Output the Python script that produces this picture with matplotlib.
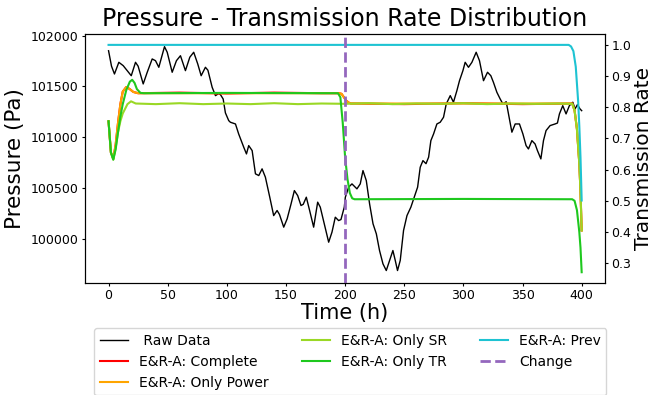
import numpy as np
import matplotlib
matplotlib.use("Agg")
from matplotlib import pyplot as plt

# raw pressure readings (h, Pa)
raw_t = [0, 2.5, 5, 8.7, 12.4, 15.8, 19.2, 22.8, 25, 29.3, 32.7, 36.9, 39.7, 42.5,
         47.3, 49.6, 53.8, 57.4, 60.8, 65, 68.7, 72, 75.4, 78.3, 81.9, 84, 87.6,
         90.4, 93, 94.6, 96.9, 98.8, 101.6, 103, 107.3, 110, 114.3, 116.6, 118.5,
         121.4, 124.2, 127, 129.8, 132.6, 136.3, 139.6, 142.5, 144.5, 148.1, 151,
         154.3, 157.1, 159.9, 162.7, 164.6, 167.2, 170, 173.4, 176.8, 179, 182.4,
         186.1, 188.9, 191.7, 194.5, 196.5, 199.3, 200.2, 203, 205.8, 210, 212.8,
         215.1, 217.9, 220.7, 223.6, 226.4, 229.1, 232, 234.8, 237.6, 240.4, 242.4,
         244.3, 246.6, 249.4, 252.3, 255.6, 258.4, 261.3, 263.5, 265.8, 268.4,
         270.6, 272.5, 274.8, 277.6, 280.4, 283.2, 285.5, 288.9, 291.6, 294.5,
         296.7, 299.6, 301.5, 304.3, 307.2, 310.8, 313.6, 317, 320.4, 323.2, 325.4,
         328.3, 331.1, 333.4, 336.2, 338.1, 341, 343.8, 347.4, 350.3, 353, 355,
         357.9, 360.6, 362.6, 365.5, 367.7, 369.9, 373.3, 377.5, 379.5, 381.2,
         384, 386.8, 389.6, 392.5, 394.4, 396.4, 398.6, 400]
raw_p = [101852, 101700, 101623, 101738, 101705, 101656, 101606, 101738, 101700,
         101525, 101640, 101771, 101754, 101689, 101892, 101837, 101640, 101754,
         101803, 101656, 101788, 101837, 101722, 101606, 101689, 101660, 101492,
         101410, 101430, 101420, 101377, 101240, 101164, 101148, 101131, 101033,
         100902, 100836, 100918, 100869, 100640, 100623, 100689, 100607, 100410,
         100229, 100279, 100240, 100115, 100197, 100344, 100475, 100426, 100328,
         100340, 100410, 100279, 100115, 100361, 100312, 100148, 99967, 100066,
         100213, 100180, 100190, 100312, 100410, 100509, 100541, 100492, 100541,
         100672, 100574, 100344, 100148, 100049, 99885, 99754, 99688, 99787, 99885,
         99787, 99688, 99787, 100082, 100229, 100312, 100410, 100509, 100705,
         100770, 100740, 100804, 100967, 101033, 101131, 101148, 101197, 101328,
         101410, 101345, 101459, 101557, 101656, 101738, 101689, 101738, 101837,
         101754, 101557, 101640, 101606, 101541, 101443, 101377, 101328, 101350,
         101230, 101050, 101131, 101131, 101033, 100918, 100885, 100967, 100934,
         100869, 100787, 100967, 101066, 101115, 101131, 101140, 101230, 101311,
         101230, 101311, 101345, 101279, 101321, 101279, 101262]

# transmission rate estimates
pw_t = [0, 2, 4, 6, 8, 10, 12, 15, 18, 21, 25, 60, 100, 140, 180, 195, 197, 199,
        201, 203, 205, 207, 250, 300, 350, 392, 394, 396, 398, 399, 400]
complete_r = [0.755, 0.655, 0.635, 0.68, 0.75, 0.81, 0.85, 0.865, 0.858, 0.849,
              0.845, 0.847, 0.844, 0.847, 0.845, 0.845, 0.843, 0.832, 0.821, 0.815,
              0.812, 0.812, 0.810, 0.813, 0.810, 0.812, 0.79, 0.73, 0.62, 0.53, 0.405]
power_r = [0.755, 0.655, 0.635, 0.68, 0.75, 0.81, 0.85, 0.865, 0.858, 0.849,
           0.845, 0.845, 0.845, 0.845, 0.845, 0.845, 0.843, 0.832, 0.821, 0.815,
           0.812, 0.812, 0.812, 0.812, 0.812, 0.812, 0.79, 0.73, 0.62, 0.53, 0.405]

sr_t = [0, 2, 4, 6, 8, 10, 12, 16, 19, 23, 40, 60, 80, 100, 120, 140, 160, 180,
        200, 220, 240, 260, 280, 300, 320, 340, 360, 380, 392, 394, 396, 398, 399, 400]
sr_r = [0.755, 0.655, 0.632, 0.67, 0.72, 0.755, 0.78, 0.81, 0.819, 0.812, 0.810,
        0.813, 0.810, 0.812, 0.810, 0.813, 0.810, 0.812, 0.811, 0.813, 0.810,
        0.812, 0.811, 0.813, 0.810, 0.812, 0.811, 0.812, 0.811, 0.79, 0.73, 0.62,
        0.53, 0.405]

tr_t = [0, 2, 4, 6, 8, 10, 12, 15, 18, 20, 22, 24, 27, 30, 100, 194, 196, 198,
        200, 202, 204, 206, 208, 300, 392, 394, 396, 398, 399, 400]
tr_r = [0.755, 0.655, 0.632, 0.665, 0.72, 0.77, 0.81, 0.855, 0.882, 0.888, 0.878,
        0.858, 0.846, 0.845, 0.846, 0.845, 0.832, 0.75, 0.64, 0.57, 0.525, 0.508,
        0.505, 0.506, 0.505, 0.50, 0.47, 0.40, 0.35, 0.271]

prev_t = [0, 389, 391, 393, 395, 397, 398, 399, 400]
prev_r = [1.0, 1.0, 0.995, 0.98, 0.93, 0.82, 0.74, 0.64, 0.501]

change_t = 200

fig = plt.figure(figsize=(6.53, 3.95), dpi=100)
ax1 = fig.add_axes([0.130, 0.284, 0.797, 0.630])
ax2 = ax1.twinx()

l_raw, = ax1.plot(raw_t, raw_p, color='black', linewidth=1.0, label=' Raw Data')
l_c, = ax2.plot(pw_t, complete_r, color='red', linewidth=1.5, label='E&R-A: Complete')
l_p, = ax2.plot(pw_t, power_r, color='orange', linewidth=1.5, label='E&R-A: Only Power')
l_sr, = ax2.plot(sr_t, sr_r, color='#9ad825', linewidth=1.5, label='E&R-A: Only SR')
l_tr, = ax2.plot(tr_t, tr_r, color='#1ec81e', linewidth=1.5, label='E&R-A: Only TR')
l_pv, = ax2.plot(prev_t, prev_r, color='#1ec3d2', linewidth=1.5, label='E&R-A: Prev')
l_ch = ax2.axvline(change_t, color='#9467bd', linestyle='--', linewidth=2, label='Change')

ax1.set_xlim(-20, 420)
ax1.set_ylim(99567, 102017)
ax2.set_ylim(0.237, 1.035)
ax1.set_yticks([100000, 100500, 101000, 101500, 102000])

ax1.set_xlabel('Time (h)', fontsize=15, labelpad=1)
ax1.set_ylabel('Pressure (Pa)', fontsize=15.5, labelpad=4)
ax2.set_ylabel('Transmission Rate', fontsize=14.5, labelpad=2)
ax1.set_title('Pressure - Transmission Rate Distribution', fontsize=17)
for ax in (ax1, ax2):
    ax.tick_params(labelsize=9, length=2.5, pad=1.8)

handles = [l_raw, l_c, l_p, l_sr, l_tr, l_pv, l_ch]
ax1.legend(handles=handles, labels=[h.get_label() for h in handles], ncol=3,
           loc='upper center', bbox_to_anchor=(0.51, -0.155), fontsize=10,
           columnspacing=2.4, frameon=True)

fig.savefig('out.png', dpi=100)
